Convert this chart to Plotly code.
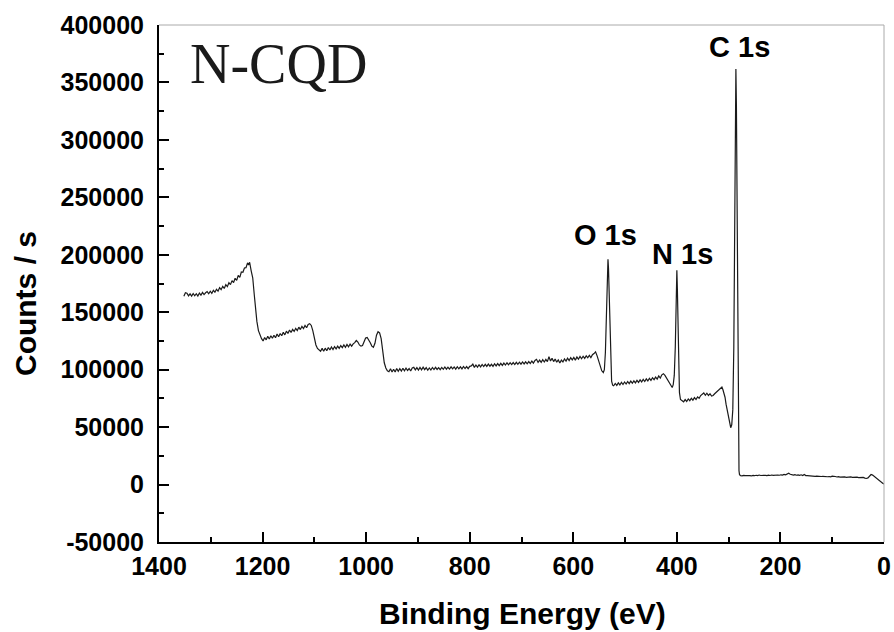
import plotly.graph_objects as go

# Binding energy (eV) and counts/s
energy = [1352,1349,1346,1343,1340,1337,1334,1331,1328,1325,1322,1319,1316,1313,1310,1307,1304,1301,1298,1295,
          1292,1289,1286,1283,1280,1277,1274,1271,1268,1265,1262,1259,1256,1253,1250,1247,1244,1241,1238,1235,
          1232,1229,1227,1225,1222,1219,1216,1213,1211,1208,1205,1202,1199,1196,1193,1190,1187,1184,1181,1178,
          1175,1172,1169,1166,1163,1160,1157,1154,1151,1148,1145,1142,1139,1136,1133,1130,1127,1124,1121,1118,
          1115,1112,1109,1106,1103,1100,1097,1094,1091,1088,1085,1082,1079,1076,1073,1070,1067,1064,1061,1058,
          1055,1052,1049,1046,1043,1040,1037,1034,1031,1028,1025,1022,1019,1016,1013,1010,1007,1004,1001,998,
          995,992,989,986,983,980,977,974,971,968,965,962,959,956,953,950,947,944,941,938,
          935,932,929,926,923,920,917,914,911,908,905,902,899,896,893,890,887,884,881,878,
          875,872,869,866,863,860,857,854,851,848,845,842,839,836,833,830,827,824,821,818,
          815,812,809,806,803,800,797,794,791,788,785,782,779,776,773,770,767,764,761,758,
          755,752,749,746,743,740,737,734,731,728,725,722,719,716,713,710,707,704,701,698,
          695,692,689,686,683,680,677,674,671,668,665,662,659,656,653,650,647,644,641,638,
          635,632,629,626,623,620,617,614,611,608,605,602,599,596,593,590,587,584,581,578,
          575,572,569,566,563,560,557,554,551,548,545,542,540,538,536,534,533,532,530,528,
          526,524,522,519,516,513,510,507,504,501,498,495,492,489,486,483,480,477,474,471,
          468,465,462,459,456,453,450,447,444,441,438,435,432,429,426,423,420,417,414,411,
          409,407,405,403,401,400,399,397,395,393,390,387,384,381,378,375,372,369,366,363,
          360,357,354,351,348,345,342,339,336,333,330,327,324,321,318,315,313,311,309,307,
          305,303,301,299,297,296,294,292,290,288,287,286,285,284,283,282,281,280,279,277,
          274,271,268,265,262,259,256,253,250,247,244,241,238,235,232,229,226,223,220,217,
          214,211,208,205,202,199,196,193,190,187,184,181,178,175,172,169,166,163,160,157,
          154,151,148,145,142,139,136,133,130,127,124,121,118,115,112,109,106,103,100,97,
          94,91,88,85,82,79,76,73,70,67,64,61,58,55,52,49,46,43,40,37,
          34,31,28,25,22,19,16,13,10,7,4,2,0]

counts = [164000,167000,166500,164200,166000,164000,166300,164300,166100,164100,166700,164800,167300,165400,166900,168000,166100,168300,166500,169100,
          167400,170000,168300,171300,169600,172500,170700,174000,172300,175700,174000,177500,175800,179500,177700,182000,180300,185000,184800,188500,
          188800,193000,191000,193500,186000,180000,165000,150000,142000,134000,129500,127000,125000,128000,126000,129000,126700,129500,127300,130000,
          127800,131000,128700,131500,129500,132500,130300,133500,131500,134500,132300,135000,133300,136000,134100,137000,134900,137700,135800,138500,
          136500,139300,140000,138500,134000,127000,121500,118500,117500,116000,118500,116000,118700,116500,119300,117100,119700,117600,120100,118100,
          120500,118500,121000,119200,121500,119500,122000,119900,122300,120500,122500,123500,125500,124000,121500,120500,121000,124500,127500,128000,
          126000,123500,120500,119500,123000,130000,133000,132000,127000,115000,106000,101500,99000,98200,100800,98000,100400,97900,101000,98600,
          100800,98700,101200,99000,101400,99300,101000,98800,101400,102000,99800,101800,99600,101900,99900,102100,100000,101800,99500,101500,
          99700,101900,100100,102000,100200,101800,100000,101900,100300,102300,100400,102100,100500,102500,100700,102400,100500,102600,100800,102500,
          100700,102800,101000,102700,100900,102900,103300,104800,102000,104100,102200,104300,102400,104500,102700,104600,102800,104800,103000,104700,
          102900,105100,103300,105300,103500,105500,103700,105700,104000,106000,104200,106100,104400,106200,104500,106400,104700,106500,104800,106700,
          105000,106800,105100,107000,105300,107500,105700,108000,109000,106300,108300,106400,108700,106700,109000,107000,111300,107500,110000,107000,
          109300,106500,108500,105800,108300,106700,109300,107500,110000,108000,110500,108500,110700,108300,111000,109100,111500,109500,111700,109800,
          112000,110300,112500,110500,113000,114000,115500,112000,107000,103000,99000,97500,100000,115000,150000,185000,196000,188000,150000,110000,
          90000,86500,86000,88000,86300,88500,86700,89000,87100,89300,87500,89700,87800,90000,88200,90300,88500,90700,88900,91100,
          89300,91500,89700,92000,90200,92500,90700,93000,91300,93500,91800,94500,92700,95500,96500,95000,93000,91000,88500,86000,
          84500,87000,95000,120000,165000,186500,170000,120000,80000,74000,73000,72000,74000,72300,74500,73000,75100,73500,75700,74000,
          76300,75100,77500,78500,79700,77700,79500,77500,79100,77100,77500,79000,80200,81500,82500,84000,84800,82500,80000,76000,
          70000,65000,60500,55000,50500,49500,52000,65000,120000,230000,300000,361700,330000,250000,160000,80000,30000,12000,8500,7800,
          7600,8000,7700,7900,7600,7800,7500,8000,7700,8100,7800,8300,7900,8100,7700,8000,7800,8200,7900,8300,
          8000,8200,7900,8300,8100,8500,8200,8800,8400,9000,9800,9000,8500,8200,8600,8100,8400,8000,8500,7900,
          8800,7800,7700,7500,7600,7300,7500,7200,7400,7100,7300,7000,7200,6900,7100,6800,7000,6700,7300,6800,
          7000,6600,6900,6500,6700,6400,6600,6300,6500,6200,6600,6300,6500,6200,6400,6100,6300,6000,6200,5600,
          5300,5800,7000,8700,8200,7000,5800,5000,4000,3000,1800,900,500]

x_ticks = [1400, 1200, 1000, 800, 600, 400, 200, 0]
x_ticktext = ["1400", "1200", "1000", "800", "600", "400", "200", "0"]
y_ticks = [-50000, 0, 50000, 100000, 150000, 200000, 250000, 300000, 350000, 400000]
y_ticktext = ["-50000", "0", "50000", "100000", "150000", "200000", "250000", "300000", "350000", "400000"]

peak_labels = ["O 1s", "N 1s", "C 1s"]
peak_label_x = [537, 390, 280]
peak_label_y = [217000, 201000, 381000]

SANS = "Liberation Sans, Arial, sans-serif"

fig = go.Figure()
fig.add_trace(go.Scatter(x=energy, y=counts, mode="lines",
                         line=dict(color="#1a1a1a", width=1.2), showlegend=False,
                         hoverinfo="x+y"))

for t, px, py in zip(peak_labels, peak_label_x, peak_label_y):
    fig.add_annotation(x=px, y=py, xref="x", yref="y", text=t, showarrow=False,
                       xanchor="center", yanchor="middle",
                       font=dict(family=SANS, size=29, color="black", weight="bold"))

fig.add_annotation(x=0.04, y=0.925, xref="paper", yref="paper", text="N-CQD",
                   showarrow=False, xanchor="left", yanchor="middle",
                   font=dict(family="Liberation Serif, Times New Roman, serif", size=56, color="#1a1a1a"))

fig.add_annotation(x=0.5007, y=-0.138, xref="paper", yref="paper", text="Binding Energy (eV)",
                   showarrow=False, xanchor="center", yanchor="middle",
                   font=dict(family=SANS, size=30, color="black", weight="bold"))
fig.add_annotation(x=-0.185, y=0.462, xref="paper", yref="paper", text="Counts / s",
                   showarrow=False, xanchor="center", yanchor="middle", textangle=-90,
                   font=dict(family=SANS, size=30, color="black", weight="bold"))

# top and right frame lines (thin gray)
fig.add_shape(type="line", xref="paper", yref="paper", x0=0, x1=1, y0=1, y1=1,
              line=dict(color="#aaaaaa", width=1))
fig.add_shape(type="line", xref="paper", yref="paper", x0=1, x1=1, y0=0, y1=1,
              line=dict(color="#aaaaaa", width=1))

fig.update_xaxes(range=[1400, 0], autorange=False, tickvals=x_ticks, ticktext=x_ticktext,
                 automargin=False,
                 showline=True, linecolor="black", linewidth=2, showgrid=False, zeroline=False,
                 ticks="inside", ticklen=10, tickwidth=2, tickcolor="black",
                 minor=dict(ticks="inside", ticklen=5, tickwidth=2, tickcolor="black", dtick=100, showgrid=False),
                 ticklabelstandoff=1,
                 tickfont=dict(family=SANS, size=25, color="black", weight="bold"))
fig.update_yaxes(range=[-50000, 400000], autorange=False, tickvals=y_ticks, ticktext=y_ticktext,
                 automargin=False,
                 showline=True, linecolor="black", linewidth=2, showgrid=False, zeroline=False,
                 ticks="inside", ticklen=10, tickwidth=2, tickcolor="black",
                 minor=dict(ticks="inside", ticklen=5, tickwidth=2, tickcolor="black", dtick=25000, showgrid=False),
                 ticklabelstandoff=8,
                 tickfont=dict(family=SANS, size=25, color="black", weight="bold"))

fig.update_layout(width=894, height=632, margin=dict(l=159, r=10, t=25, b=90),
                  plot_bgcolor="white", paper_bgcolor="white")

fig.write_html("out.html")
